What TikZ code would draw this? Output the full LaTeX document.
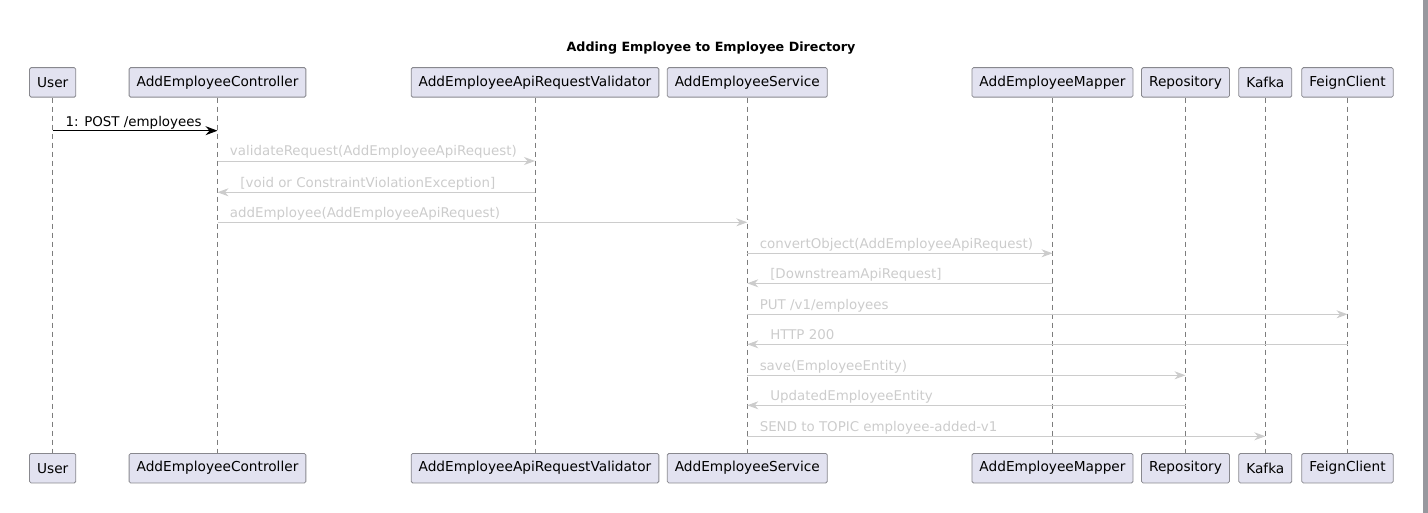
\documentclass[tikz,border=0pt]{standalone}
\usepackage{fontspec}
\setmainfont{DejaVu Sans}
\usetikzlibrary{arrows.meta}
\definecolor{PartFill}{RGB}{226,226,240}
\definecolor{PartLine}{RGB}{136,136,142}
\definecolor{MsgGray}{RGB}{204,204,204}
\definecolor{LifeGray}{RGB}{125,125,125}
\definecolor{BarGray}{RGB}{152,152,158}

\begin{document}
\begin{tikzpicture}[x=1pt,y=-1pt]
				\tikzstyle{part}=[draw=PartLine, fill=PartFill, rounded corners=1.5pt, line width=0.8pt, minimum height=29.5pt, inner xsep=7.5pt, inner ysep=0pt, font=\fontsize{13.7}{16}\selectfont];
				\tikzstyle{life}=[draw=LifeGray, line width=0.8pt, dash pattern=on 5pt off 4pt];
				\tikzstyle{msg}=[draw=MsgGray, line width=0.9pt, -{Stealth[length=11pt, width=8pt, inset=3.5pt]}];
				\tikzstyle{lbl}=[anchor=base west, inner sep=0pt, text=MsgGray, font=\fontsize{13.4}{16}\selectfont];
				\useasboundingbox (0,0) rectangle (1428,513);
				\fill[BarGray] (1423,0) rectangle (1428,513);
				\node [font=\bfseries\fontsize{12.7}{15}\selectfont] (title) at (711,48) {Adding Employee to Employee Directory};
				% participants, top row
				\node [part] (user) at (52.7,82.4) {User};
				\node [part] (ctl) at (217.5,82.4) {AddEmployeeController};
				\node [part] (val) at (535,82.4) {AddEmployeeApiRequestValidator};
				\node [part] (svc) at (747.3,82.4) {AddEmployeeService};
				\node [part] (map) at (1052.5,82.4) {AddEmployeeMapper};
				\node [part] (repo) at (1185.5,82.4) {Repository};
				\node [part] (kaf) at (1265.3,82.4) {Kafka};
				\node [part] (feign) at (1347.5,82.4) {FeignClient};
				% participants, bottom row
				\node [part] (user2) at (52.7,468.2) {User};
				\node [part] (ctl2) at (217.5,468.2) {AddEmployeeController};
				\node [part] (val2) at (535,468.2) {AddEmployeeApiRequestValidator};
				\node [part] (svc2) at (747.3,468.2) {AddEmployeeService};
				\node [part] (map2) at (1052.5,468.2) {AddEmployeeMapper};
				\node [part] (repo2) at (1185.5,468.2) {Repository};
				\node [part] (kaf2) at (1265.3,468.2) {Kafka};
				\node [part] (feign2) at (1347.5,468.2) {FeignClient};
				% lifelines
				\draw[life] (user) -- (user2);
				\draw[life] (ctl) -- (ctl2);
				\draw[life] (val) -- (val2);
				\draw[life] (svc) -- (svc2);
				\draw[life] (map) -- (map2);
				\draw[life] (repo) -- (repo2);
				\draw[life] (kaf) -- (kaf2);
				\draw[life] (feign) -- (feign2);
				% message rows
				\coordinate (r1) at (0,130.7);
				\coordinate (r2) at (0,161);
				\coordinate (r3) at (0,192.3);
				\coordinate (r4) at (0,222.3);
				\coordinate (r5) at (0,253.3);
				\coordinate (r6) at (0,283.3);
				\coordinate (r7) at (0,314.3);
				\coordinate (r8) at (0,344.3);
				\coordinate (r9) at (0,375.3);
				\coordinate (r10) at (0,405.3);
				\coordinate (r11) at (0,436.3);
				\draw[msg, draw=black, -{Stealth[length=12pt, width=9pt, inset=4pt]}] (user |- r1) -- (ctl |- r1) node[lbl, text=black, pos=0, xshift=12.5pt, yshift=4.5pt] (t1) {1: POST /employees};
				\draw[msg] (ctl |- r2) -- (val |- r2) node[lbl, pos=0, xshift=12pt, yshift=5pt] (t2) {validateRequest(AddEmployeeApiRequest)};
				\draw[msg] (val |- r3) -- (ctl |- r3) node[lbl, pos=1, xshift=22.5pt, yshift=5pt] (t3) {[void or ConstraintViolationException]};
				\draw[msg] (ctl |- r4) -- (svc |- r4) node[lbl, pos=0, xshift=12pt, yshift=5pt] (t4) {addEmployee(AddEmployeeApiRequest)};
				\draw[msg] (svc |- r5) -- (map |- r5) node[lbl, pos=0, xshift=12pt, yshift=5pt] (t5) {convertObject(AddEmployeeApiRequest)};
				\draw[msg] (map |- r6) -- (svc |- r6) node[lbl, pos=1, xshift=22.5pt, yshift=5pt] (t6) {[DownstreamApiRequest]};
				\draw[msg] (svc |- r7) -- (feign |- r7) node[lbl, pos=0, xshift=12pt, yshift=5pt] (t7) {PUT /v1/employees};
				\draw[msg] (feign |- r8) -- (svc |- r8) node[lbl, pos=1, xshift=22.5pt, yshift=5pt] (t8) {HTTP 200};
				\draw[msg] (svc |- r9) -- (repo |- r9) node[lbl, pos=0, xshift=12pt, yshift=5pt] (t9) {save(EmployeeEntity)};
				\draw[msg] (repo |- r10) -- (svc |- r10) node[lbl, pos=1, xshift=22.5pt, yshift=5pt] (t10) {UpdatedEmployeeEntity};
				\draw[msg] (svc |- r11) -- (kaf |- r11) node[lbl, pos=0, xshift=12pt, yshift=5pt] (t11) {SEND to TOPIC employee-added-v1};
\end{tikzpicture}
\end{document}
